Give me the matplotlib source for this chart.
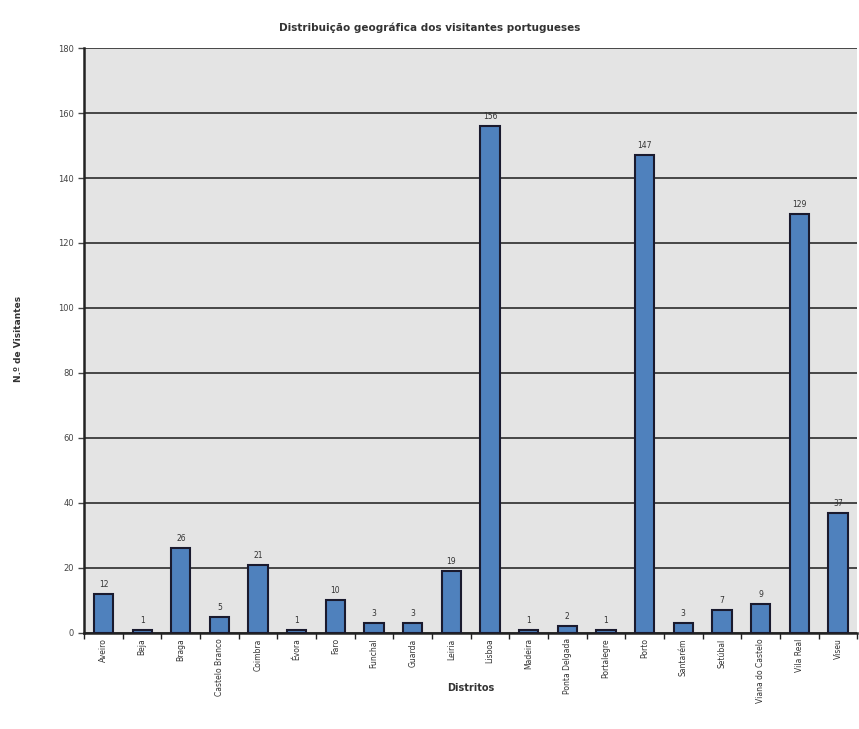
import matplotlib.pyplot as plt
import numpy as np

distritos = ['Aveiro', 'Beja', 'Braga', 'Castelo Branco', 'Coimbra', 'Évora', 'Faro',
             'Funchal', 'Guarda', 'Leiria', 'Lisboa', 'Madeira', 'Ponta Delgada',
             'Portalegre', 'Porto', 'Santarém', 'Setúbal', 'Viana do Castelo',
             'Vila Real', 'Viseu']
visitantes = [12, 1, 26, 5, 21, 1, 10, 3, 3, 19, 156, 1, 2, 1, 147, 3, 7, 9, 129, 37]
y_ticks = [0, 20, 40, 60, 80, 100, 120, 140, 160, 180]

fig = plt.figure(figsize=(8.59, 7.29), dpi=100)
ax = fig.add_axes([0.098, 0.132, 0.900, 0.802])
ax.set_facecolor('#e4e4e4')

x = np.arange(len(distritos))
bars = ax.bar(x, visitantes, width=0.5, color='#4f81bd', edgecolor='#1a1a2e', linewidth=1.5, zorder=3)

for xi, v in zip(x, visitantes):
    ax.text(xi, v + 1.5, str(v), ha='center', va='bottom', fontsize=5.5, color='#333333')

ax.set_xlim(-0.5, len(distritos) - 0.5)
ax.set_ylim(0, 180)
ax.set_yticks(y_ticks)
ax.set_yticklabels([str(t) for t in y_ticks], fontsize=6, color='#444444')
ax.yaxis.grid(True, color='#3a3a3a', linewidth=1.3, zorder=1)
ax.set_axisbelow(True)

ax.set_xticks(x)
ax.set_xticklabels(distritos, rotation=90, fontsize=5.5, color='#333333')
ax.tick_params(axis='x', length=0, pad=4)
ax.set_xticks(np.arange(-0.5, len(distritos), 1), minor=True)
ax.tick_params(axis='x', which='minor', length=4, width=1, color='#222222', direction='out')
ax.tick_params(axis='y', length=4, width=1, color='#444444', direction='out')

for side in ['top', 'right']:
    ax.spines[side].set_visible(False)
ax.spines['left'].set_linewidth(1.8)
ax.spines['left'].set_color('#222222')
ax.spines['bottom'].set_linewidth(1.8)
ax.spines['bottom'].set_color('#222222')

fig.text(0.50, 0.962, 'Distribuição geográfica dos visitantes portugueses', ha='center', va='center',
         fontsize=7.5, fontweight='bold', color='#333333')
fig.text(0.548, 0.056, 'Distritos', ha='center', va='center',
         fontsize=7, fontweight='bold', color='#333333')
fig.text(0.022, 0.535, 'N.º de Visitantes', ha='center', va='center', rotation=90,
         fontsize=6.5, fontweight='bold', color='#333333')

fig.savefig('out.png', dpi=100)
